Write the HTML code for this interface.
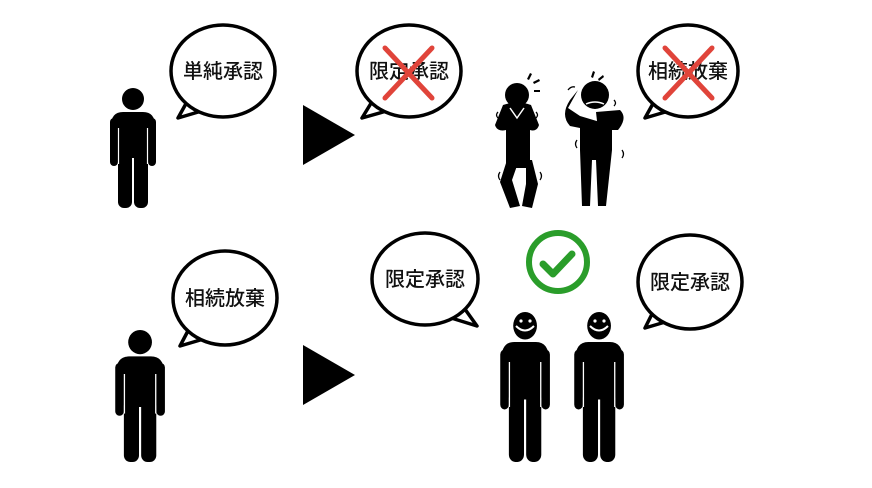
<!DOCTYPE html>
<html><head><meta charset="utf-8"><style>
html,body{margin:0;padding:0;background:#fff;}
svg{display:block}
text{font-family:"Liberation Sans","Noto Sans CJK JP",sans-serif;font-size:20px;font-weight:500;fill:#111;text-anchor:middle;}
</style></head><body>
<svg width="872" height="488" viewBox="0 0 872 488" xmlns="http://www.w3.org/2000/svg">
<defs>
<g id="p">
<circle cx="26" cy="11" r="11"/>
<path d="M4,38 Q4,24 16,24 H36 Q48,24 48,38 Z"/>
<rect x="10" y="26" width="32" height="44" rx="4"/>
<rect x="3" y="30" width="8" height="48" rx="4"/>
<rect x="41" y="30" width="8" height="48" rx="4"/>
<rect x="11" y="60" width="14" height="60" rx="6"/>
<rect x="27" y="60" width="14" height="60" rx="6"/>
<line x1="11.5" y1="40" x2="11.5" y2="76" stroke="#fff" stroke-width="1.2"/>
<line x1="40.5" y1="40" x2="40.5" y2="76" stroke="#fff" stroke-width="1.2"/>
<line x1="26" y1="72" x2="26" y2="120" stroke="#fff" stroke-width="1.2"/>
</g>
</defs>

<g stroke="#000" stroke-width="3.5" fill="#fff" stroke-linejoin="round">
<path d="M188,100 L178,118 L205,110 Z"/>
<ellipse cx="223" cy="71" rx="52" ry="46"/>
<path d="M373,100 L362,118 L390,110 Z"/>
<ellipse cx="409" cy="71" rx="52" ry="46"/>
<path d="M655,100 L645,118 L672,110 Z"/>
<ellipse cx="688" cy="71" rx="50" ry="46"/>
<path d="M190,327 L180,346 L207,338 Z"/>
<ellipse cx="225" cy="298" rx="52" ry="47"/>
<path d="M462,305 L477,326 L448,317 Z"/>
<ellipse cx="425" cy="279" rx="53" ry="46"/>
<path d="M655,308 L645,328 L672,320 Z"/>
<ellipse cx="690" cy="282" rx="52" ry="47"/>
</g>
<text x="223" y="78">単純承認</text>
<text x="409" y="78">限定承認</text>
<text x="688" y="78">相続放棄</text>
<text x="225" y="305">相続放棄</text>
<text x="425" y="286">限定承認</text>
<text x="690" y="289">限定承認</text>
<g stroke="#e0443a" stroke-width="5" stroke-linecap="round">
<line x1="385" y1="48" x2="432" y2="98"/><line x1="432" y1="48" x2="385" y2="98"/>
<line x1="665" y1="48" x2="712" y2="98"/><line x1="712" y1="48" x2="665" y2="98"/>
</g>

<polygon points="303,105 355,135 303,165" fill="#000"/>
<polygon points="303,345 355,375 303,405" fill="#000"/>

<use href="#p" transform="translate(107,88)"/>
<use href="#p" transform="translate(112,330) scale(1.08,1.1)"/>
<use href="#p" transform="translate(497,312) scale(1.08,1.25)"/>
<use href="#p" transform="translate(571,312) scale(1.08,1.25)"/>
<g fill="none" stroke="#fff" stroke-width="2">
<path d="M516,326 Q525,335 534,326"/>
<path d="M590,326 Q599,335 608,326"/>
</g>
<g fill="#fff"><circle cx="521" cy="321" r="1.6"/><circle cx="530" cy="321" r="1.6"/><circle cx="595" cy="321" r="1.6"/><circle cx="604" cy="321" r="1.6"/></g>

<circle cx="558" cy="262" r="29" fill="none" stroke="#2a9d2a" stroke-width="6"/>
<path d="M543,264 L553,274 L572,254" fill="none" stroke="#2a9d2a" stroke-width="7" stroke-linecap="round" stroke-linejoin="round"/>

<g fill="#000">
<circle cx="517" cy="95" r="12"/>
<path d="M503,105 Q517,100 531,105 L539,125 Q537,132 530,130 L530,165 L522,165 L520,160 L515,165 L506,165 L506,130 Q497,132 495,125 Z"/>
<path d="M507,160 L519,160 L512,180 L520,206 L510,208 L500,182 Z"/>
<path d="M526,160 L532,160 L538,184 L532,208 L522,206 L526,184 Z"/>
<path d="M510,160 L532,160 L528,168 L512,168 Z"/>
</g>
<path d="M510,108 L517,118 L524,108" stroke="#fff" stroke-width="1.5" fill="none"/>
<g fill="#000">
<circle cx="595" cy="95" r="14"/>
<path d="M578,90 L568,108 L580,116 L600,122 L610,112 L612,118 L612,150 L606,206 L598,206 L596,160 L592,160 L590,206 L582,206 L580,150 L580,128 L570,126 Q560,115 570,100 Z"/>
<path d="M596,112 L620,110 Q628,118 618,130 L598,130 Z"/>
</g>
<path d="M586,104 Q595,100 604,104" stroke="#fff" stroke-width="1.5" fill="none"/>
<g fill="#000">
<path d="M527,79 l3,-6 l2,1 l-3,6 z"/><path d="M533,82 l6,-3 l1,2 l-6,3z"/><path d="M534,90 l6,0 l0,2 l-6,0z"/>
<path d="M591,77 l2,-6 l2,1 l-2,6z"/><path d="M598,79 l5,-4 l1,2 l-5,4z"/><path d="M600,86 l6,0 l0,2 l-6,0z"/>
</g>
<g fill="none" stroke="#000" stroke-width="1.3">
<path d="M498,112 q-3,3 0,6"/><path d="M536,112 q3,3 0,6"/><path d="M500,172 q-3,4 0,8"/><path d="M540,172 q3,4 0,8"/>
<path d="M568,90 q3,-4 7,-3"/><path d="M614,100 q3,3 0,6"/><path d="M577,140 q-3,4 0,8"/><path d="M622,150 q3,4 0,8"/>
</g>
</svg>
</body></html>
